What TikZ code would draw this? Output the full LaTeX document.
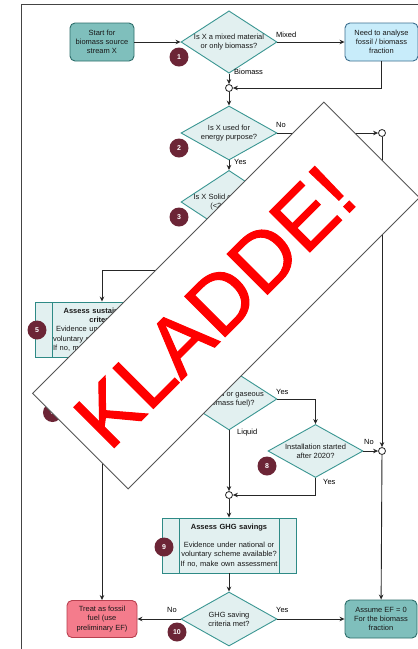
\documentclass[tikz,border=0pt]{standalone}
\usepackage{fontspec}
\setmainfont{Liberation Sans}
\newfontfamily\stampfont{Liberation Sans}[FakeBold=1.2]
\usetikzlibrary{shapes.geometric,arrows.meta,calc}
\definecolor{tealfill}{HTML}{7FBFBC}
\definecolor{tealdark}{HTML}{2D6E6B}
\definecolor{diafill}{HTML}{E2F0F0}
\definecolor{diaborder}{HTML}{3A9692}
\definecolor{procborder}{HTML}{2E8A86}
\definecolor{bluefill}{HTML}{C8ECFA}
\definecolor{blueborder}{HTML}{3C6F8F}
\definecolor{pinkfill}{HTML}{F47C8C}
\definecolor{pinkborder}{HTML}{B8404F}
\definecolor{badgecol}{HTML}{6C2536}
\definecolor{framegray}{HTML}{444444}
\definecolor{stampgray}{HTML}{555555}
\tikzset{
  base/.style={font=\fontsize{7.5}{9.3}\selectfont, align=center, inner sep=0pt, text=black!90},
  tealbox/.style={base, draw=tealdark, fill=tealfill, rounded corners=5pt, line width=0.9pt},
  bluebox/.style={base, draw=blueborder, fill=bluefill, rounded corners=5pt, line width=0.9pt},
  pinkbox/.style={base, draw=pinkborder, fill=pinkfill, rounded corners=5pt, line width=0.9pt},
  decision/.style={base, diamond, draw=diaborder, fill=diafill, line width=0.9pt,
    minimum width=96pt, minimum height=54pt, inner sep=-6pt},
  process/.style={base, draw=procborder, fill=diafill, line width=0.9pt,
    minimum width=134pt, minimum height=55pt,
    path picture={\draw[procborder, line width=0.9pt]
      ([xshift=17pt]path picture bounding box.north west) -- ([xshift=17pt]path picture bounding box.south west)
      ([xshift=-17pt]path picture bounding box.north east) -- ([xshift=-17pt]path picture bounding box.south east);}},
  badge/.style={circle, fill=badgecol, minimum size=19pt, inner sep=0pt, text=white,
    font=\fontsize{7}{8}\selectfont\bfseries},
  junction/.style={circle, draw=black!85, fill=white, minimum size=7pt, inner sep=0pt, line width=0.8pt},
  conn/.style={line width=0.9pt, draw=black!85, -{Stealth[length=5pt,width=4.5pt]}},
  lab/.style={font=\fontsize{7.5}{9}\selectfont, inner sep=0pt, anchor=west},
}
\begin{document}
\begin{tikzpicture}[x=1pt,y=-1pt]
\useasboundingbox (0,0) rectangle (418,649);
\fill[white] (0,0) rectangle (418,649);
\draw[framegray, line width=0.9pt] (21.7,660) -- (21.7,4.7) -- (430,4.7);

% nodes
\node[tealbox, minimum width=64pt, minimum height=38pt] (start) at (102,42) {Start for\\biomass source\\stream X};
\node[decision] (d1) at (229,42) {Is X a mixed material\\or only biomass?};
\node[bluebox, minimum width=73pt, minimum height=38pt] (need) at (381.5,42) {Need to analyse\\fossil / biomass\\fraction};
\node[junction] (j1) at (229,88) {};
\node[decision] (d2) at (229,133) {Is X used for\\energy purpose?};
\node[junction] (j2) at (382,133) {};
\node[decision] (d3) at (229,202) {Is X Solid or gaseous\\(<20 MW)?};
\coordinate (c4) at (181,270);
\node[process, text width=98pt, align=left] (b5) at (102,329.5)
  {{\centering\bfseries Assess sustainability\\criteria\par}\hspace{3pt}Evidence under national or\\voluntary scheme available?\\If no, make own assessment};
\coordinate (c6) at (102,425);
\node[decision] (d7) at (229,399) {Is X solid or gaseous\\(biomass fuel)?};
\node[decision, minimum width=95pt, minimum height=53pt] (d8) at (315.5,451) {Installation started\\after 2020?};
\node[junction] (j4) at (382,451) {};
\node[junction] (j3) at (229,495) {};
\node[process, text width=100pt] (b9) at (229,545.5)
  {\textbf{Assess GHG savings}\\[9pt]Evidence under national or\\voluntary scheme available?\\If no, make own assessment};
\node[decision] (d10) at (229,619) {GHG saving\\criteria met?};
\node[pinkbox, minimum width=70pt, minimum height=37pt] (treat) at (102,619) {Treat as fossil\\fuel (use\\preliminary EF)};
\node[tealbox, minimum width=72pt, minimum height=38pt] (assume) at (381,619) {Assume EF = 0\\For the biomass\\fraction};

% badges
\node[badge] (n1) at (179,57) {1};
\node[badge] (n2) at (179,148) {2};
\node[badge] (n3) at (179,217) {3};
\node[badge] (n5) at (37,330) {5};
\node[badge] (n6) at (52.5,412.5) {6};
\node[badge] (n8) at (267,466) {8};
\node[badge] (n9) at (164,547) {9};
\node[badge] (n10) at (177,632) {10};

% connectors
\draw[conn] (start) -- (d1);
\draw[conn] (d1) -- (need);
\draw[conn] (d1) -- (j1);
\draw[conn] (need.south) |- (j1);
\draw[conn] (j1) -- (d2);
\draw[conn] (d2) -- (j2);
\draw[conn] (d2) -- (d3);
\draw[conn] (j2) -- (j4);
\draw[conn] (c4) -| (b5.north);
\draw[conn] (c6) -- (treat);
\draw[conn] (d7.east) -| (d8.north);
\draw[conn] (d7) -- (j3);
\draw[conn] (d8) -- (j4);
\draw[conn] (d8.south) |- (j3);
\draw[conn] (j4) -- (assume);
\draw[conn] (j3) -- (b9);
\draw[conn] (b9) -- (d10);
\draw[conn] (d10) -- (treat);
\draw[conn] (d10) -- (assume);

% labels
\node[lab] (lmixed) at (276,35) {Mixed};
\node[lab] (lbio) at (234,72) {Biomass};
\node[lab] (lno2) at (276,125) {No};
\node[lab] (lyes2) at (234,162) {Yes};
\node[lab] (lyes7) at (276,392) {Yes};
\node[lab] (lliq) at (237,433) {Liquid};
\node[lab] (lno8) at (364,442) {No};
\node[lab] (lyes8) at (323,482) {Yes};
\node[lab] (lno10) at (167,610) {No};
\node[lab] (lyes10) at (276,610) {Yes};

% stamp
\node[draw=stampgray, fill=white, line width=0.9pt, rotate=45, minimum width=412pt, minimum height=135pt, inner sep=0pt] (stamp) at (226,295.5) {};
\node[rotate=45, inner sep=0pt, text=red, font=\stampfont\fontsize{83}{83}\selectfont] (kladde) at (214.8,306.7) {KLADDE!};
\end{tikzpicture}
\end{document}
